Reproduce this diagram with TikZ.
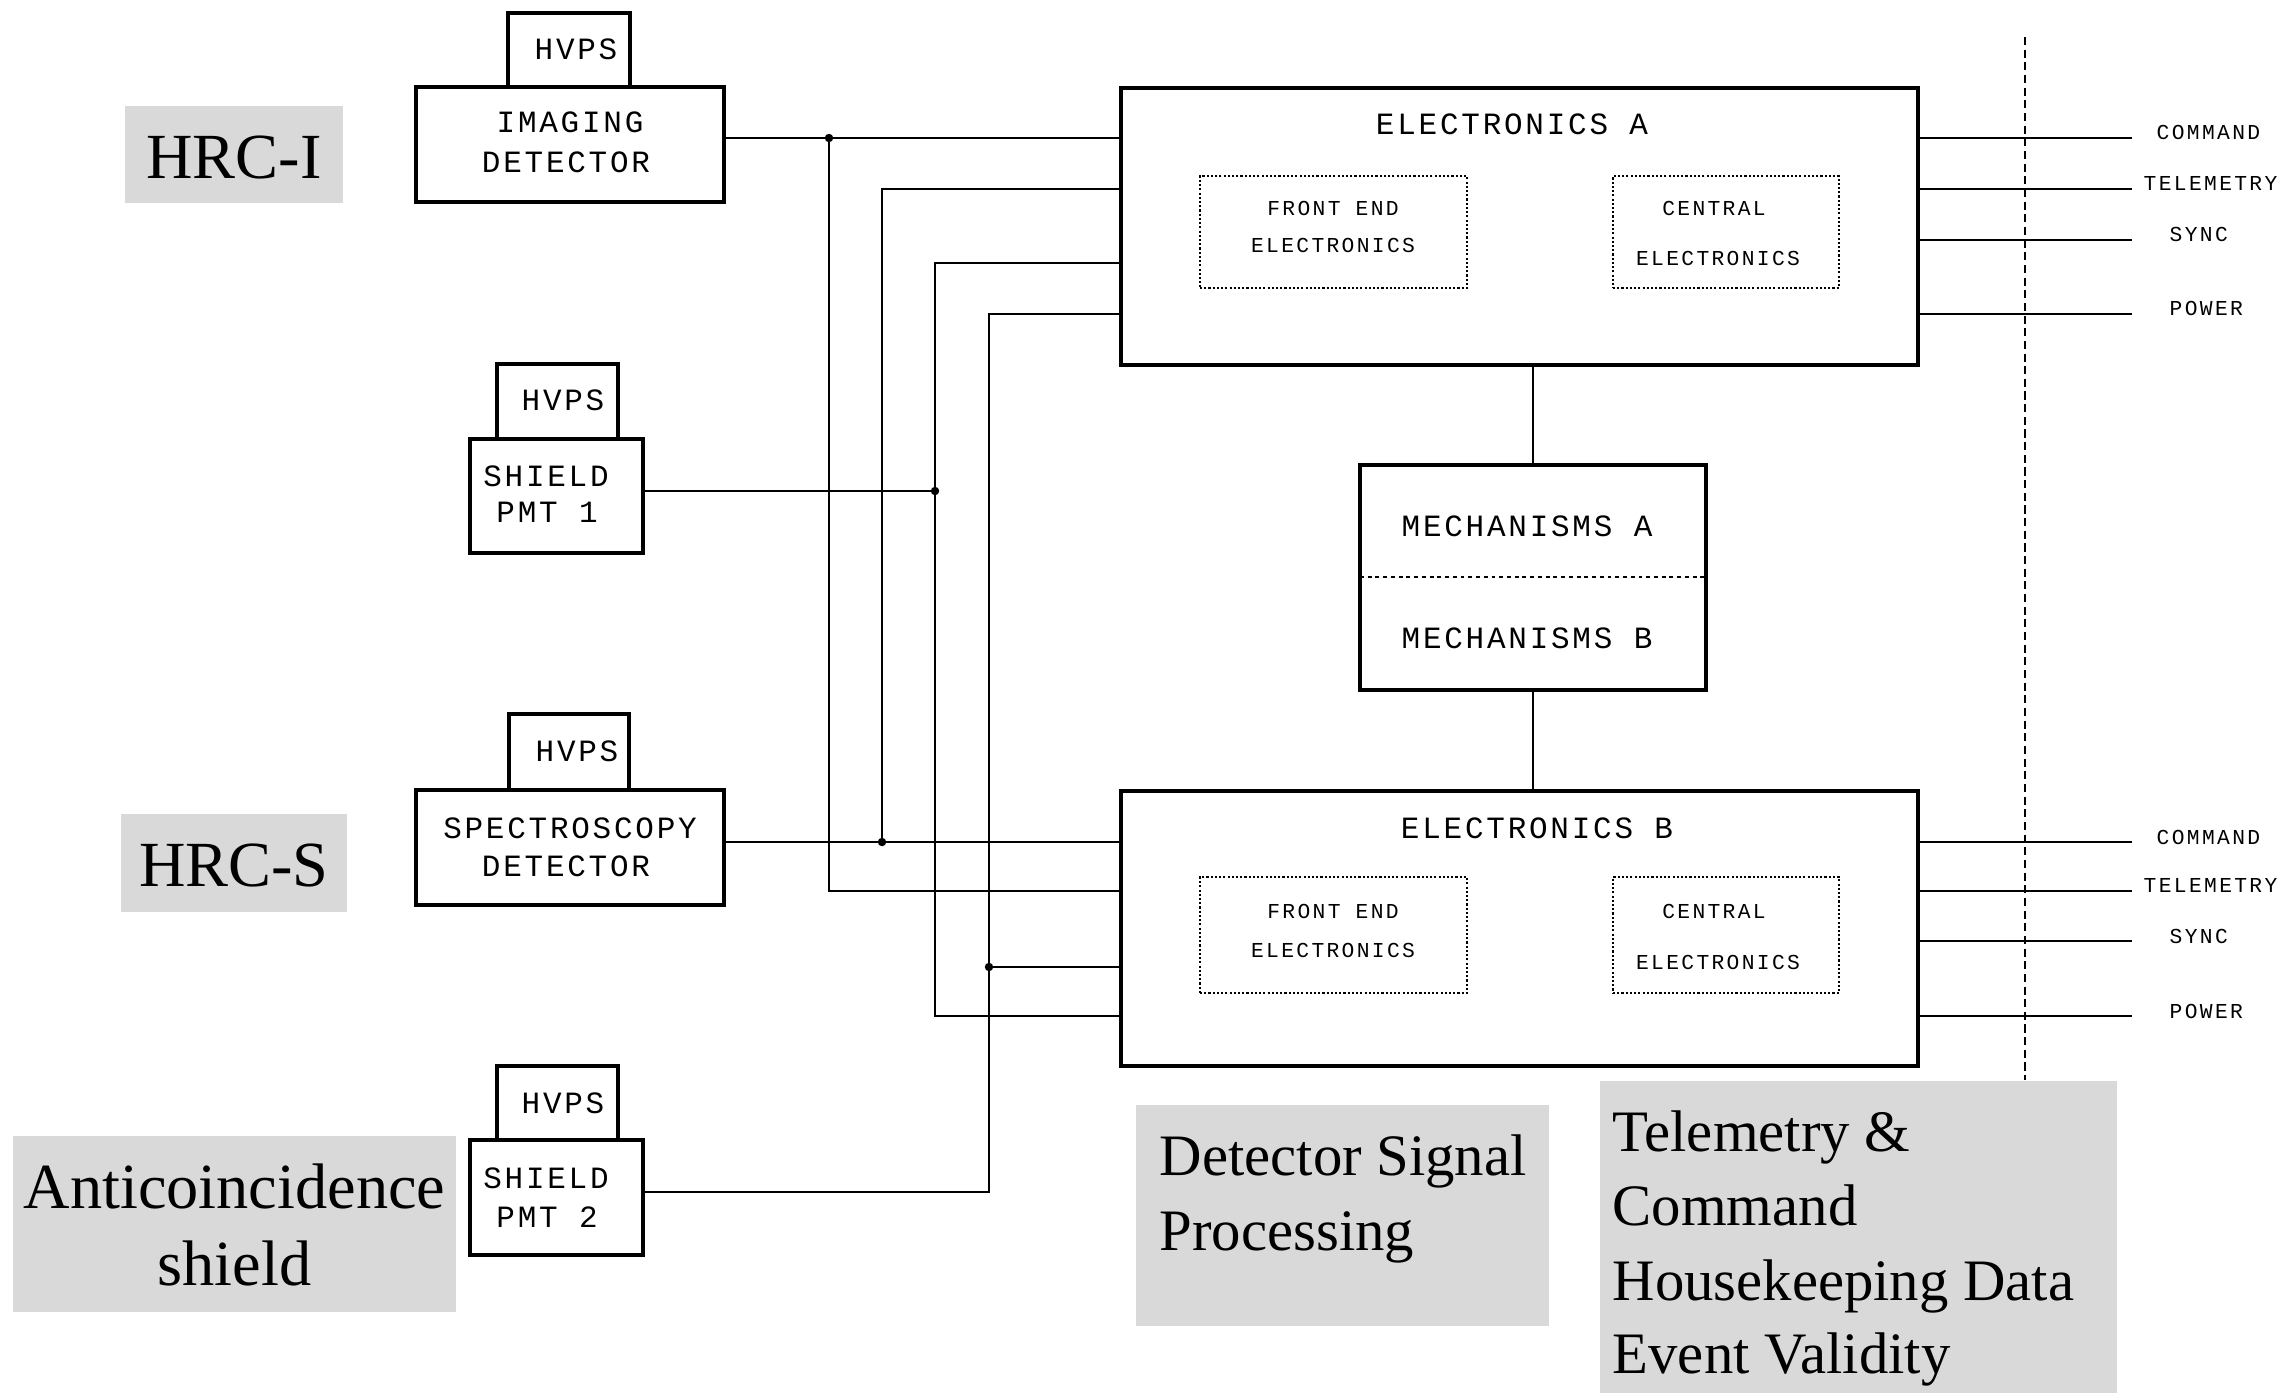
\documentclass[tikz,border=0pt]{standalone}
\usepackage{fontspec}
\setmainfont{Liberation Serif}
\newfontfamily\plotfont[LetterSpace=9]{Liberation Mono}
\newfontfamily\plotsmall[LetterSpace=11]{Liberation Mono}
\usetikzlibrary{fit}
\definecolor{lblgrey}{RGB}{217,217,217}
\tikzset{
  thickbox/.style={draw, line width=1.1pt, inner sep=0pt, outer sep=0pt},
  dotbox/.style={draw, line width=0.45pt, dash pattern=on 0.6pt off 0.6pt, inner sep=0pt, outer sep=0pt},
  greybox/.style={fill=lblgrey, inner sep=0pt, outer sep=0pt},
  wire/.style={line width=0.5pt},
  bigtxt/.style={font=\plotfont\fontsize{8.8}{10}\selectfont, inner sep=0pt, anchor=base},
  smalltxt/.style={font=\plotsmall\fontsize{6.05}{7}\selectfont, inner sep=0pt, anchor=base},
  smallw/.style={font=\plotsmall\fontsize{6.05}{7}\selectfont, inner sep=0pt, anchor=base west},
  serifL/.style={font=\fontsize{18.3}{20}\selectfont, inner sep=0pt, anchor=base},
  serifM/.style={font=\fontsize{16.7}{18}\selectfont, inner sep=0pt, anchor=base west},
  junction/.style={circle, fill, inner sep=0pt, minimum size=2.4pt},
}
\begin{document}
\begin{tikzpicture}[x=0.01cm, y=-0.01cm]
\useasboundingbox (0,0) rectangle (2288,1393);

% grey labels
\node[greybox, fit={(125,106) (343,203)}] (gHRCI) {};
\node[serifL] (tHRCI) at (234,178) {HRC-I};
\node[greybox, fit={(121,814) (347,912)}] (gHRCS) {};
\node[serifL] (tHRCS) at (234,886) {HRC-S};
\node[greybox, fit={(13,1136) (456,1312)}] (gAnti) {};
\node[serifL] (tAnti1) at (234.5,1208) {Anticoincidence};
\node[serifL] (tAnti2) at (234.5,1285) {shield};
\node[greybox, fit={(1136,1105) (1549,1326)}] (gDSP) {};
\node[serifM] (tDSP1) at (1159,1175) {Detector Signal};
\node[serifM] (tDSP2) at (1159,1250) {Processing};
\node[greybox, fit={(1600,1081) (2117,1393)}] (gTel) {};
\node[serifM] (tTel1) at (1612,1151) {Telemetry \&};
\node[serifM] (tTel2) at (1612,1225) {Command};
\node[serifM] (tTel3) at (1612,1300) {Housekeeping Data};
\node[serifM] (tTel4) at (1612,1373) {Event Validity};

% detectors
\node[thickbox, fit={(508,13) (630,87)}] (hv1) {};
\node[bigtxt] (hv1t) at (576,59) {HVPS};
\node[thickbox, fit={(416,87) (724,202)}] (img) {};
\node[bigtxt] (imgt1) at (570,132) {IMAGING};
\node[bigtxt] (imgt2) at (566,172) {DETECTOR};

\node[thickbox, fit={(497,364) (618,439)}] (hv2) {};
\node[bigtxt] (hv2t) at (563,410) {HVPS};
\node[thickbox, fit={(470,439) (643,553)}] (pmt1) {};
\node[bigtxt] (pmt1t1) at (546,486) {SHIELD};
\node[bigtxt] (pmt1t2) at (547,522) {PMT 1};

\node[thickbox, fit={(509,714) (629,790)}] (hv3) {};
\node[bigtxt] (hv3t) at (577,761) {HVPS};
\node[thickbox, fit={(416,790) (724,905)}] (spec) {};
\node[bigtxt] (spect1) at (570,838) {SPECTROSCOPY};
\node[bigtxt] (spect2) at (566,876) {DETECTOR};

\node[thickbox, fit={(497,1066) (618,1140)}] (hv4) {};
\node[bigtxt] (hv4t) at (563,1113) {HVPS};
\node[thickbox, fit={(470,1140) (643,1255)}] (pmt2) {};
\node[bigtxt] (pmt2t1) at (546,1188) {SHIELD};
\node[bigtxt] (pmt2t2) at (547,1227) {PMT 2};

% electronics A
\node[thickbox, fit={(1121,88) (1918,365)}] (elA) {};
\node[bigtxt] (elAt) at (1512,134) {ELECTRONICS A};
\node[dotbox, fit={(1200,176) (1467,288)}] (feA) {};
\node[smalltxt] (feAt1) at (1333,215) {FRONT END};
\node[smalltxt] (feAt2) at (1333,252) {ELECTRONICS};
\node[dotbox, fit={(1613,176) (1839,288)}] (ceA) {};
\node[smalltxt] (ceAt1) at (1714,215) {CENTRAL};
\node[smalltxt] (ceAt2) at (1718,265) {ELECTRONICS};

% electronics B
\node[thickbox, fit={(1121,791) (1918,1066)}] (elB) {};
\node[bigtxt] (elBt) at (1537,838) {ELECTRONICS B};
\node[dotbox, fit={(1200,877) (1467,993)}] (feB) {};
\node[smalltxt] (feBt1) at (1333,918) {FRONT END};
\node[smalltxt] (feBt2) at (1333,957) {ELECTRONICS};
\node[dotbox, fit={(1613,877) (1839,993)}] (ceB) {};
\node[smalltxt] (ceBt1) at (1714,918) {CENTRAL};
\node[smalltxt] (ceBt2) at (1718,969) {ELECTRONICS};

% mechanisms
\node[thickbox, fit={(1360,465) (1706,690)}] (mech) {};
\node[bigtxt] (mechAt) at (1527,536) {MECHANISMS A};
\node[bigtxt] (mechBt) at (1527,648) {MECHANISMS B};
\coordinate (mechmid) at (1533,577);
\draw[line width=0.45pt, dash pattern=on 1.1pt off 1.1pt] (mech.west |- mechmid) -- (mech.east |- mechmid);
\draw[wire] (mech.north) -- (mech.north |- elA.south);
\draw[wire] (mech.south) -- (mech.south |- elB.north);

% junctions and bends
\node[junction] (d1) at (829,138) {};
\node[junction] (d2) at (882,842) {};
\node[junction] (d3) at (935,491) {};
\node[junction] (d4) at (989,967) {};
\coordinate (c1b) at (829,891);
\coordinate (c2t) at (882,189);
\coordinate (c3t) at (935,263);
\coordinate (c3b) at (935,1016);
\coordinate (c4t) at (989,314);
\coordinate (c4b) at (989,1192);

\draw[wire] (img.east |- d1.center) -- (elA.west |- d1.center);
\draw[wire] (d1.center) -- (c1b) -- (elB.west |- c1b);
\draw[wire] (elA.west |- c2t) -- (c2t) -- (d2.center);
\draw[wire] (spec.east |- d2.center) -- (elB.west |- d2.center);
\draw[wire] (elA.west |- c3t) -- (c3t) -- (c3b) -- (elB.west |- c3b);
\draw[wire] (pmt1.east |- d3.center) -- (d3.center);
\draw[wire] (elA.west |- c4t) -- (c4t) -- (c4b) -- (pmt2.east |- c4b);
\draw[wire] (d4.center) -- (elB.west |- d4.center);

% right side
\coordinate (dvt) at (2025,37);
\coordinate (dvb) at (2025,1080);
\draw[line width=0.5pt, dash pattern=on 2.3pt off 1.3pt] (dvt) -- (dvb);

\coordinate (rA1) at (2132,138);
\coordinate (rA2) at (2132,189);
\coordinate (rA3) at (2132,240);
\coordinate (rA4) at (2132,314);
\coordinate (rB1) at (2132,842);
\coordinate (rB2) at (2132,891);
\coordinate (rB3) at (2132,941);
\coordinate (rB4) at (2132,1016);
\foreach \c in {rA1,rA2,rA3,rA4} \draw[wire] (elA.east |- \c) -- (\c);
\foreach \c in {rB1,rB2,rB3,rB4} \draw[wire] (elB.east |- \c) -- (\c);

\node[smallw] (lA1) at (2156,139) {COMMAND};
\node[smallw] (lA2) at (2143,190) {TELEMETRY};
\node[smallw] (lA3) at (2169,241) {SYNC};
\node[smallw] (lA4) at (2169,315) {POWER};
\node[smallw] (lB1) at (2156,844) {COMMAND};
\node[smallw] (lB2) at (2143,892) {TELEMETRY};
\node[smallw] (lB3) at (2169,943) {SYNC};
\node[smallw] (lB4) at (2169,1018) {POWER};
\end{tikzpicture}
\end{document}
